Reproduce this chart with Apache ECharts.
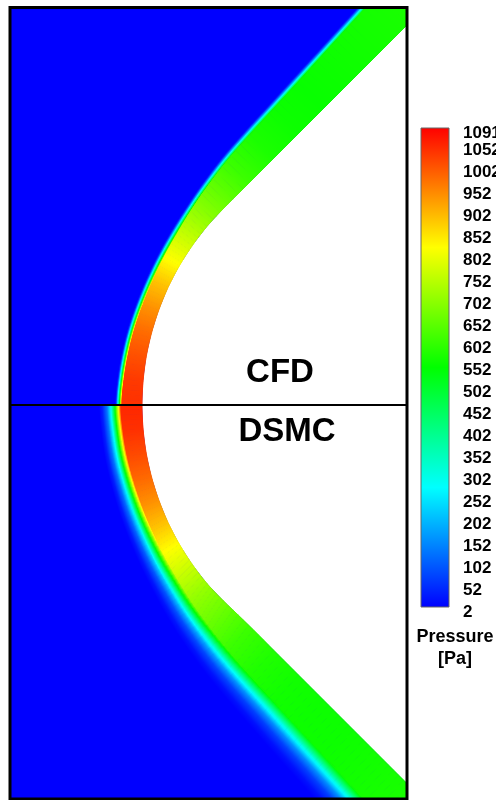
<!DOCTYPE html>
<html><head><meta charset="utf-8">
<script src="https://cdn.jsdelivr.net/npm/echarts@6/dist/echarts.min.js"></script>
<style>html,body{margin:0;padding:0;background:#fff;}#chart{width:496px;height:800px;}</style>
</head><body><div id="chart"></div>
<script>
// ---- colour scale (Pressure [Pa]) ----
const scaleValues = [2, 274.25, 546.5, 818.75, 1091];
const scaleColors = ['#0000ff', '#00ffff', '#00ff00', '#ffff00', '#ff0000'];
const colorbarTicks = [2, 52, 102, 152, 202, 252, 302, 352, 402, 452, 502, 552, 602, 652, 702, 752, 802, 852, 902, 952, 1002, 1052, 1091];
const freestreamPressure = 2;

// ---- body surface stations (x from nose, y from symmetry axis) ----
const bodyX     = [0, 1.1, 4.2, 9.5, 16.8, 26.0, 37.2, 50.2, 65.0, 81.4, 106.4, 131.4, 156.4, 181.4, 206.4, 231.4, 256.4, 281.4, 306.4];
const cfdBodyY  = [0, 24.2, 48.2, 71.9, 95.0, 117.4, 138.9, 159.3, 178.6, 196.4, 221.4, 246.4, 271.4, 296.4, 321.4, 346.4, 371.4, 396.4, 421.4];
const dsmcBodyY = [0, -24.2, -48.2, -71.9, -95.0, -117.4, -138.9, -159.3, -178.6, -195.8, -219.9, -244.9, -269.9, -294.9, -319.9, -344.9, -369.9, -394.9, -419.9];

// ---- shock layer: distance body -> shock (inner edge) and shock thickness ----
const cfdLayer       = [20, 19, 18, 17.3, 16.7, 16.7, 17.5, 19, 22, 26, 31, 33.5, 35.1, 36.7, 38.3, 40, 41.6, 43.2, 44.8];
const cfdShockWidth  = [7, 7, 7, 7, 7, 7, 7, 7, 6.5, 6.5, 6.5, 6.5, 6.5, 6.5, 6.5, 6.5, 6.5, 6.5, 6.5];
const dsmcLayer      = [21, 20, 19, 18, 17.5, 17.5, 18.5, 20, 23, 27, 32, 34.5, 36, 37.5, 39, 40.5, 42, 43.5, 45];
const dsmcShockWidth = [22, 22, 22.5, 23, 24, 25, 26, 27.5, 29, 30.5, 32, 33, 34, 35, 35.5, 36, 36.5, 37, 37];

// ---- pressure in the shock layer at each station [Pa] ----
const cfdPressure  = [1040, 1030, 1005, 975, 935, 885, 820, 765, 710, 665, 610, 575, 560, 555, 560, 565, 570, 575, 575];
const dsmcPressure = [1050, 1040, 1012, 978, 935, 880, 815, 760, 705, 665, 610, 580, 565, 560, 560, 565, 570, 575, 575];

// ---- pressure rise through the shock (fraction of thickness -> fraction of layer pressure) ----
const cfdProfileT  = [0, 0.15, 0.4, 0.64, 0.86, 1];
const cfdProfileF  = [0, 0.04, 0.26, 0.525, 0.79, 1];
const dsmcProfileT = [0, 0.15, 0.36, 0.545, 0.73, 0.886, 1];
const dsmcProfileF = [0, 0.03, 0.12, 0.27, 0.53, 0.79, 1];

const FONT = '"Liberation Sans", Arial, sans-serif';
const SUB = 5; // smoothing sub-steps between stations (rendering only)

function hexRgb(h) { return [parseInt(h.substr(1,2),16), parseInt(h.substr(3,2),16), parseInt(h.substr(5,2),16)]; }
function colorOf(v) {
  const n = scaleValues.length;
  v = Math.max(scaleValues[0], Math.min(scaleValues[n-1], v));
  let k = 0;
  while (k < n - 2 && v > scaleValues[k+1]) k++;
  const t = (v - scaleValues[k]) / (scaleValues[k+1] - scaleValues[k]);
  const a = hexRgb(scaleColors[k]), b = hexRgb(scaleColors[k+1]);
  return 'rgb(' + a.map((c, j) => Math.round(c + (b[j] - c) * t)).join(',') + ')';
}
function rampStops(vA, vB) {
  const s = [], N = 4;
  for (let j = 0; j <= N; j++) s.push({offset: j / N, color: colorOf(vA + (vB - vA) * j / N)});
  return s;
}
function profileStops(vL, T, F) {
  const s = [];
  for (let k = 0; k < T.length - 1; k++) {
    for (let j = 0; j < 4; j++) {
      const f = F[k] + (F[k+1] - F[k]) * j / 4;
      s.push({offset: T[k] + (T[k+1] - T[k]) * j / 4, color: colorOf(freestreamPressure + f * (vL - freestreamPressure))});
    }
  }
  s.push({offset: 1, color: colorOf(vL)});
  return s;
}
// outward (upstream) unit normals of a curve that starts on the symmetry axis
function curveNormals(px, py) {
  const n = px.length, out = [];
  const sgn = py[n-1] >= 0 ? 1 : -1;
  for (let i = 0; i < n; i++) {
    let ax, ay, cx, cy;
    if (i === 0) { ax = px[1]; ay = -py[1]; cx = px[1]; cy = py[1]; }
    else if (i === n - 1) { ax = px[i-1]; ay = py[i-1]; cx = px[i]; cy = py[i]; }
    else { ax = px[i-1]; ay = py[i-1]; cx = px[i+1]; cy = py[i+1]; }
    let tx = cx - ax, ty = cy - ay; const L = Math.hypot(tx, ty); tx /= L; ty /= L;
    out.push([sgn * (-ty), sgn * tx]);
  }
  return out;
}
function buildStations(bx, by, layer, width) {
  const nb = curveNormals(bx, by);
  const ox = bx.map((x, i) => x + nb[i][0] * (layer[i] + width[i]));
  const oy = by.map((y, i) => y + nb[i][1] * (layer[i] + width[i]));
  const ns = curveNormals(ox, oy);
  return {
    B: bx.map((x, i) => [x, by[i]]),
    O: ox.map((x, i) => [x, oy[i]]),
    I: ox.map((x, i) => [x - ns[i][0] * width[i], oy[i] - ns[i][1] * width[i]])
  };
}
const cfdSt = buildStations(bodyX, cfdBodyY, cfdLayer, cfdShockWidth);
const dsmcSt = buildStations(bodyX, dsmcBodyY, dsmcLayer, dsmcShockWidth);

// smooth (Catmull-Rom) curve through station points, mirrored across the axis at the start
function curvePoint(arr, i, t) {
  const n = arr.length;
  const get = j => j < 0 ? [arr[-j][0], -arr[-j][1]]
                 : (j >= n ? [2 * arr[n-1][0] - arr[n-2][0], 2 * arr[n-1][1] - arr[n-2][1]] : arr[j]);
  const p0 = get(i - 1), p1 = get(i), p2 = get(i + 1), p3 = get(i + 2);
  const t2 = t * t, t3 = t2 * t;
  return [0, 1].map(k => 0.5 * (2 * p1[k] + (-p0[k] + p2[k]) * t + (2 * p0[k] - 5 * p1[k] + 4 * p2[k] - p3[k]) * t2 + (-p0[k] + 3 * p1[k] - 3 * p2[k] + p3[k]) * t3));
}
function mid(a, b) { return [(a[0] + b[0]) / 2, (a[1] + b[1]) / 2]; }
function makeRender(st, pressure, profT, profF) {
  return function (params, api) {
    const i = api.value(3);
    const shocks = [], layers = [];
    for (let k = 0; k < SUB; k++) {
      const ta = k / SUB, tb = (k + 1) / SUB;
      const o0 = api.coord(curvePoint(st.O, i, ta)), o1 = api.coord(curvePoint(st.O, i, tb));
      const i0 = api.coord(curvePoint(st.I, i, ta)), i1 = api.coord(curvePoint(st.I, i, tb));
      const b0 = api.coord(curvePoint(st.B, i, ta)), b1 = api.coord(curvePoint(st.B, i, tb));
      const vA = pressure[i] + (pressure[i+1] - pressure[i]) * ta;
      const vB = pressure[i] + (pressure[i+1] - pressure[i]) * tb;
      const m0 = mid(i0, b0), m1 = mid(i1, b1);
      const layerFill = {type: 'linear', x: m0[0], y: m0[1], x2: m1[0], y2: m1[1], global: true, colorStops: rampStops(vA, vB)};
      const os = mid(o0, o1), is = mid(i0, i1);
      let ex = o1[0] - o0[0], ey = o1[1] - o0[1]; const el = Math.hypot(ex, ey) || 1; ex /= el; ey /= el;
      let qx = -ey, qy = ex;
      const d = (is[0] - os[0]) * qx + (is[1] - os[1]) * qy;
      if (d < 0) { qx = -qx; qy = -qy; }
      const len = Math.abs(d);
      const shockFill = {type: 'linear', x: os[0], y: os[1], x2: os[0] + qx * len, y2: os[1] + qy * len, global: true,
                         colorStops: profileStops((vA + vB) / 2, profT, profF)};
      shocks.push({type: 'polygon', shape: {points: [o0, o1, i1, i0]}, style: {fill: shockFill, stroke: shockFill, lineWidth: 1, lineJoin: 'round'}});
      layers.push({type: 'polygon', shape: {points: [i0, i1, b1, b0]}, style: {fill: layerFill, stroke: layerFill, lineWidth: 1, lineJoin: 'round'}});
    }
    return {type: 'group', children: shocks.concat(layers)};
  };
}
function renderFreestream(params, api) {
  const pts = [api.coord([-300, 700])];
  for (let i = cfdSt.B.length - 1; i >= 0; i--) pts.push(api.coord(cfdSt.B[i]));
  for (let i = 1; i < dsmcSt.B.length; i++) pts.push(api.coord(dsmcSt.B[i]));
  pts.push(api.coord([-300, -700]));
  return {type: 'polygon', shape: {points: pts}, style: {fill: colorOf(freestreamPressure)}};
}

const chart = echarts.init(document.getElementById('chart'), null, {renderer: 'canvas'});
chart.setOption({
  animation: false,
  backgroundColor: '#ffffff',
  grid: [
    {left: 10, top: 8, width: 397, height: 791, show: false, containLabel: false, outerBoundsMode: 'none'},
    {left: 421, top: 133, width: 28, height: 479, show: false, containLabel: false, outerBoundsMode: 'none'}
  ],
  xAxis: [
    {gridIndex: 0, type: 'value', min: -132, max: 265, z: 10,
     axisLine: {show: true, onZero: true, lineStyle: {color: '#000', width: 2}},
     axisTick: {show: false}, axisLabel: {show: false}, splitLine: {show: false}},
    {gridIndex: 1, type: 'value', min: 0, max: 1, show: false}
  ],
  yAxis: [
    {gridIndex: 0, type: 'value', min: -394, max: 397, show: false},
    {gridIndex: 1, type: 'value', min: 2, max: 1091, position: 'right',
     axisLine: {show: false}, axisTick: {show: false}, splitLine: {show: false},
     axisLabel: {customValues: colorbarTicks, formatter: v => String(v), margin: 14, fontSize: 17, fontWeight: 'bold', color: '#000', fontFamily: FONT}}
  ],
  series: [
    {type: 'custom', name: 'freestream', xAxisIndex: 0, yAxisIndex: 0, clip: true, silent: true,
     data: [[bodyX[0], cfdBodyY[0], freestreamPressure, 0]], renderItem: renderFreestream},
    {type: 'custom', name: 'CFD', xAxisIndex: 0, yAxisIndex: 0, clip: true, silent: true,
     data: cfdPressure.slice(0, -1).map((p, i) => [bodyX[i], cfdBodyY[i], p, i]),
     renderItem: makeRender(cfdSt, cfdPressure, cfdProfileT, cfdProfileF)},
    {type: 'custom', name: 'DSMC', xAxisIndex: 0, yAxisIndex: 0, clip: true, silent: true,
     data: dsmcPressure.slice(0, -1).map((p, i) => [bodyX[i], dsmcBodyY[i], p, i]),
     renderItem: makeRender(dsmcSt, dsmcPressure, dsmcProfileT, dsmcProfileF)}
  ],
  graphic: [
    {type: 'rect', z: 100, shape: {x: 10, y: 7.5, width: 397, height: 791.5},
     style: {fill: 'none', stroke: '#000', lineWidth: 3}},
    {type: 'rect', z: 100, shape: {x: 421, y: 128, width: 28, height: 479},
     style: {fill: {type: 'linear', x: 0, y: 1, x2: 0, y2: 0,
       colorStops: scaleValues.map((v, k) => ({offset: (v - scaleValues[0]) / (scaleValues[scaleValues.length-1] - scaleValues[0]), color: scaleColors[k]}))},
       stroke: '#666', lineWidth: 1}},
    {type: 'text', z: 100, x: 455, y: 637, style: {text: 'Pressure', fontSize: 18, fontWeight: 'bold', fontFamily: FONT, fill: '#000', align: 'center', verticalAlign: 'middle', textAlign: 'center', textVerticalAlign: 'middle'}},
    {type: 'text', z: 100, x: 455, y: 659, style: {text: '[Pa]', fontSize: 18, fontWeight: 'bold', fontFamily: FONT, fill: '#000', align: 'center', verticalAlign: 'middle', textAlign: 'center', textVerticalAlign: 'middle'}},
    {type: 'text', z: 100, x: 280, y: 373, style: {text: 'CFD', fontSize: 33, fontWeight: 'bold', fontFamily: FONT, fill: '#000', align: 'center', verticalAlign: 'middle', textAlign: 'center', textVerticalAlign: 'middle'}},
    {type: 'text', z: 100, x: 287, y: 432, style: {text: 'DSMC', fontSize: 33, fontWeight: 'bold', fontFamily: FONT, fill: '#000', align: 'center', verticalAlign: 'middle', textAlign: 'center', textVerticalAlign: 'middle'}}
  ]
});
</script></body></html>
